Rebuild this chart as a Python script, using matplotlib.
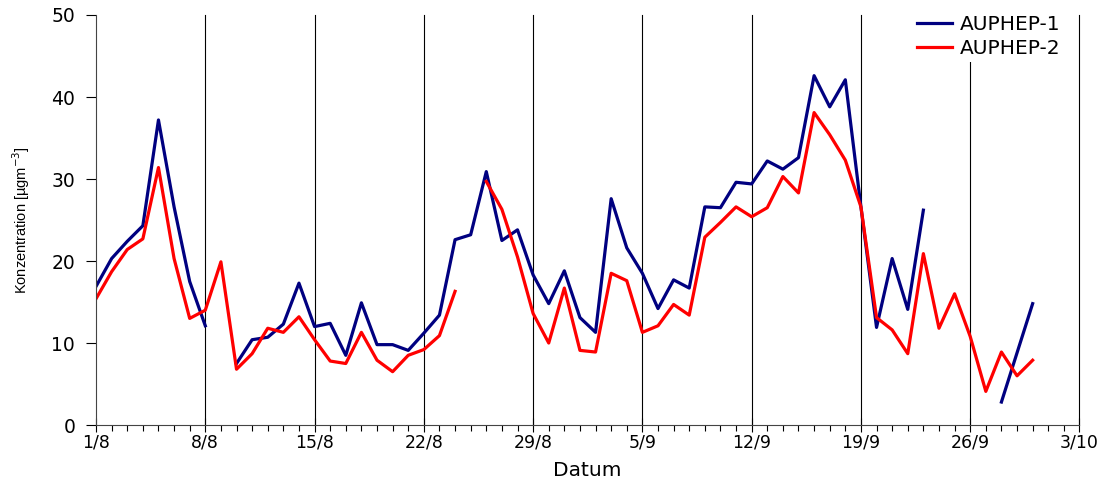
import numpy as np
import matplotlib.pyplot as plt
from matplotlib.ticker import MultipleLocator

plt.rcParams['font.family'] = ['DejaVu Sans']

# Tage ab 1/8
nan = np.nan
tick_labels = ['1/8', '8/8', '15/8', '22/8', '29/8', '5/9', '12/9', '19/9', '26/9', '3/10']

auphep1 = [16.9, 20.3, 22.4, 24.3, 37.2, 26.6, 17.5, 12.1, nan, 7.5,
           10.4, 10.7, 12.3, 17.3, 12.0, 12.4, 8.5, 14.9, 9.8, 9.8,
           9.1, 11.2, 13.4, 22.6, 23.2, 30.9, 22.5, 23.8, 18.3, 14.8,
           18.8, 13.1, 11.3, 27.6, 21.6, 18.5, 14.2, 17.7, 16.7, 26.6,
           26.5, 29.6, 29.4, 32.2, 31.2, 32.6, 42.6, 38.8, 42.1, 26.6,
           11.9, 20.3, 14.1, 26.2, nan, nan, nan, nan, 2.8, 8.8,
           14.8]

auphep2 = [15.4, 18.7, 21.4, 22.7, 31.4, 20.3, 13.0, 14.0, 19.9, 6.8,
           8.7, 11.8, 11.3, 13.2, 10.4, 7.8, 7.5, 11.3, 7.9, 6.5,
           8.5, 9.2, 10.9, 16.3, nan, 29.7, 26.3, 20.5, 13.6, 10.0,
           16.7, 9.1, 8.9, 18.5, 17.6, 11.3, 12.1, 14.7, 13.4, 22.9,
           24.7, 26.6, 25.4, 26.5, 30.3, 28.3, 38.1, 35.4, 32.3, 26.6,
           13.1, 11.6, 8.7, 20.9, 11.8, 16.0, 10.8, 4.1, 8.9, 6.0,
           7.9]

days = np.arange(len(auphep1))

fig = plt.figure(figsize=(11.05, 4.87), dpi=100)
ax = fig.add_axes([0.0869, 0.1273, 0.8900, 0.8419])

ax.plot(days, auphep1, color='#000080', linewidth=2.3, label='AUPHEP-1')
ax.plot(days, auphep2, color='#ff0000', linewidth=2.3, label='AUPHEP-2')

ax.set_xlim(0, 63)
ax.set_ylim(0, 50)
ax.set_xticks(np.arange(0, 64, 7))
ax.set_xticklabels(tick_labels, fontsize=12.5)
ax.xaxis.set_minor_locator(MultipleLocator(1))
ax.yaxis.set_major_locator(MultipleLocator(10))
ax.tick_params(axis='y', labelsize=13.5, direction='out', length=7, width=0.8, pad=8)
ax.tick_params(axis='x', which='major', direction='inout', length=10, width=0.8, pad=1)
ax.tick_params(axis='x', which='minor', direction='out', length=4, width=0.8)

# senkrechte Gitterlinien
for d in np.arange(7, 64, 7):
    ax.axvline(d, color='black', linewidth=0.8, zorder=0, clip_on=False)

ax.spines['top'].set_visible(False)
ax.spines['right'].set_visible(False)
ax.spines['left'].set_color('#444444')
ax.spines['bottom'].set_color('#444444')

ax.set_xlabel('Datum', fontsize=14.5, labelpad=7)
ax.set_ylabel('Konzentration [µgm$^{-3}$]', fontsize=10.5, labelpad=14,
              family=['Liberation Sans Narrow', 'Liberation Sans', 'DejaVu Sans'])

leg = ax.legend(loc='upper right', bbox_to_anchor=(0.995, 1.035), fontsize=14.5,
                frameon=True, fancybox=False, handlelength=1.75, handletextpad=0.4,
                borderpad=0.2, labelspacing=0.25)
leg.get_frame().set_edgecolor('none')
leg.get_frame().set_facecolor('white')
leg.get_frame().set_alpha(1)

fig.savefig('out.png', dpi=100)
